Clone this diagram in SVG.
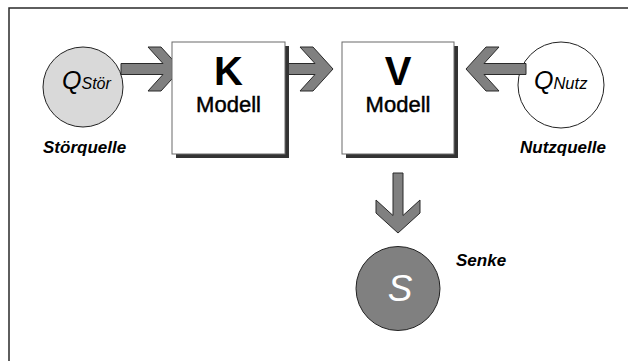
<svg xmlns="http://www.w3.org/2000/svg" width="628" height="361" viewBox="0 0 628 361">
  <defs>
    <style>
      .frame { fill: none; stroke: #2a2a2a; stroke-width: 1.5; }
      .src { stroke: #222; stroke-width: 1; }
      .box { fill: #ffffff; stroke: #6a6a6a; stroke-width: 1; }
      .shadow { fill: #333333; }
      .arrow { fill: #808080; stroke: #2a2a2a; stroke-width: 1; stroke-linejoin: miter; }
      .title { font-family: "Liberation Sans", Arial, sans-serif; font-weight: bold; font-size: 40px; text-anchor: middle; fill: #000; }
      .sub { font-family: "Liberation Sans", Arial, sans-serif; font-size: 22px; text-anchor: middle; fill: #000; stroke: #000; stroke-width: 0.45; }
      .sym { font-family: "Liberation Sans", Arial, sans-serif; font-style: italic; fill: #000; }
      .cap { font-family: "Liberation Sans", Arial, sans-serif; font-style: italic; font-weight: bold; font-size: 17px; fill: #000; }
    </style>
  </defs>

  <rect width="628" height="361" fill="#ffffff"/>
  <!-- open frame: top and left edges -->
  <path class="frame" d="M9,361 V8 H628"/>

  <g id="q-stoer">
    <circle class="src" cx="83" cy="87" r="40" fill="#d9d9d9"/>
    <text class="sym" x="62" y="89"><tspan font-size="25">Q</tspan><tspan font-size="16">Stör</tspan></text>
    <text class="cap" x="43" y="153">Störquelle</text>
  </g>

  <g id="q-nutz">
    <circle class="src" cx="561" cy="85" r="43" fill="#ffffff"/>
    <text class="sym" x="534" y="89"><tspan font-size="25">Q</tspan><tspan font-size="16.5">Nutz</tspan></text>
    <text class="cap" x="520" y="153">Nutzquelle</text>
  </g>

  <g id="connectors">
    <polygon class="arrow" points="121,63.5 163,63.5 148,47 161,47 181,69 161,91 148,91 163,74.5 121,74.5"/>
    <polygon class="arrow" points="285,63.5 315,63.5 300,47 313,47 333,69 313,91 300,91 315,74.5 285,74.5"/>
    <polygon class="arrow" points="526,63.5 484,63.5 499,47 486,47 466,69 486,91 499,91 484,74.5 526,74.5"/>
    <polygon class="arrow" points="393,173 403,173 403,215.5 420,200 420,213 398,233 376,213 376,200 393,215.5"/>
  </g>

  <g id="k-modell">
    <rect class="shadow" x="176" y="46" width="113" height="112"/>
    <rect class="box" x="172" y="42" width="113" height="112"/>
    <text class="title" x="228.5" y="85">K</text>
    <text class="sub" x="228.5" y="112">Modell</text>
  </g>

  <g id="v-modell">
    <rect class="shadow" x="346" y="46" width="112" height="112"/>
    <rect class="box" x="342" y="42" width="112" height="112"/>
    <text class="title" x="398" y="85">V</text>
    <text class="sub" x="398" y="112">Modell</text>
  </g>

  <g id="senke">
    <circle class="src" cx="398" cy="288.5" r="42" fill="#808080"/>
    <text class="sym" x="400" y="301" font-size="37" text-anchor="middle" style="fill:#ffffff">S</text>
    <text class="cap" x="456" y="266" font-size="16">Senke</text>
  </g>
</svg>
